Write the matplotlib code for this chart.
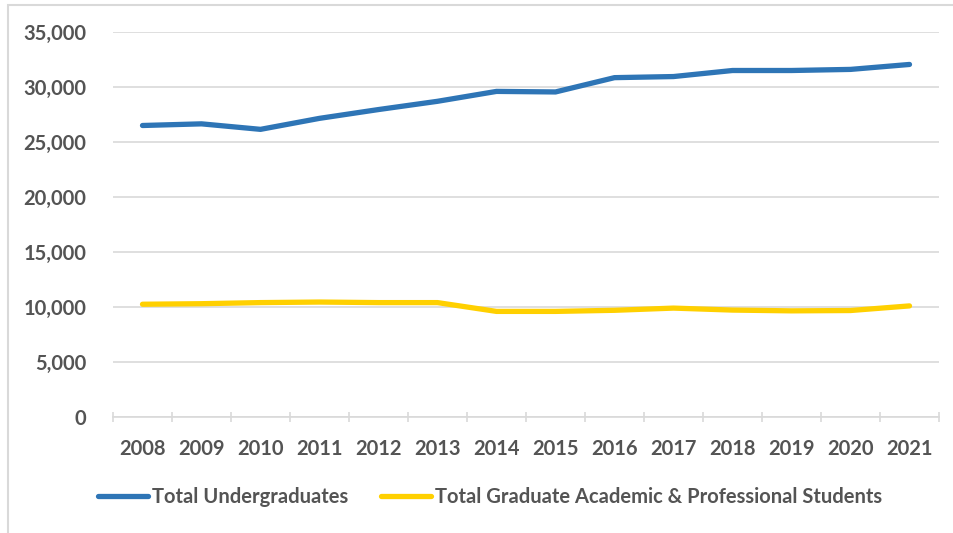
import matplotlib.pyplot as plt
from matplotlib.lines import Line2D
from matplotlib.ticker import FuncFormatter, FixedLocator
from matplotlib.patches import Rectangle

# data
years = ['2008', '2009', '2010', '2011', '2012', '2013', '2014',
         '2015', '2016', '2017', '2018', '2019', '2020', '2021']
undergrad = [26500, 26650, 26150, 27150, 27950, 28700, 29600,
             29550, 30850, 30950, 31500, 31500, 31600, 32050]
graduate = [10250, 10300, 10400, 10450, 10400, 10400, 9600,
            9600, 9700, 9900, 9720, 9650, 9680, 10100]
labels = ['Total Undergraduates', 'Total Graduate Academic & Professional Students']
colors = ['#2E75B6', '#FFD000']

W, H = 954, 533
fig = plt.figure(figsize=(W / 100, H / 100), dpi=100)
txt = '#545454'
fnt = 'Lato'
fs = 14.5

# outer chart frame (left and top edges visible)
fig.patches.append(Rectangle((8 / W, -0.1), 1.2, (H - 5) / H + 0.1,
                             transform=fig.transFigure, fill=False,
                             edgecolor='#D9D9D9', linewidth=1.5))

ax = fig.add_axes([113 / W, 1 - 417 / H, (939 - 113) / W, (417 - 32) / H])
x = list(range(len(years)))
ax.plot(x, undergrad, color=colors[0], lw=3.8, solid_capstyle='round')
ax.plot(x, graduate, color=colors[1], lw=3.8, solid_capstyle='round')

ax.set_xlim(-0.5, len(years) - 0.5)
ax.set_ylim(0, 35000)
ax.set_yticks(range(0, 35001, 5000))
ax.yaxis.set_major_formatter(FuncFormatter(lambda v, p: f'{int(v):,}'))
ax.set_xticks(x)
ax.set_xticklabels(years)
ax.xaxis.set_minor_locator(FixedLocator([i - 0.5 for i in range(len(years) + 1)]))

ax.grid(axis='y', color='#D9D9D9', lw=1.2)
ax.set_axisbelow(True)
for s in ['top', 'right', 'left']:
    ax.spines[s].set_visible(False)
ax.spines['bottom'].set_color('#D9D9D9')
ax.spines['bottom'].set_linewidth(1.2)

ax.tick_params(axis='y', length=0, pad=19, labelsize=fs, labelcolor=txt)
ax.tick_params(axis='x', which='major', length=0, pad=16, labelsize=fs, labelcolor=txt)
ax.tick_params(axis='x', which='minor', length=7, color='#D9D9D9', width=1.2, direction='inout')
for t in ax.get_xticklabels() + ax.get_yticklabels():
    t.set_fontfamily(fnt)
    t.set_fontweight('bold')

handles = [Line2D([], [], color=c, lw=3.8, solid_capstyle='round') for c in colors]
fig.legend(handles, labels, loc='center', bbox_to_anchor=(490 / W, 1 - 497 / H),
           ncol=2, frameon=False, handlelength=2.5, handletextpad=0.2,
           columnspacing=1.6, borderpad=0,
           prop={'family': fnt, 'weight': 'bold', 'size': fs})
for t in fig.legends[0].get_texts():
    t.set_color(txt)

fig.savefig('out.png', dpi=100)
